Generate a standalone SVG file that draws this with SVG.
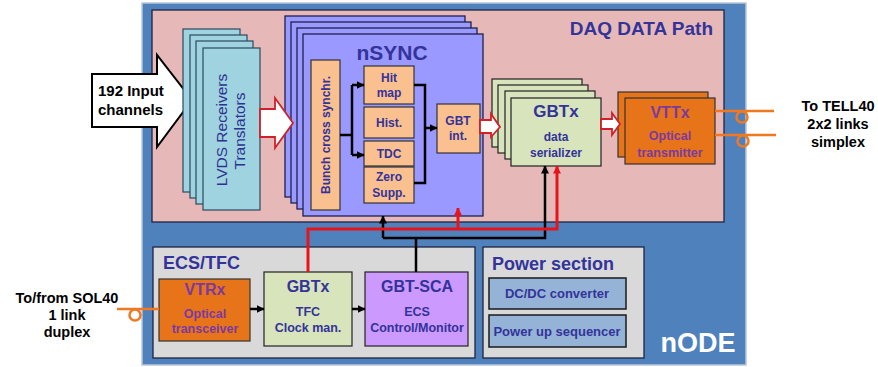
<svg xmlns="http://www.w3.org/2000/svg" width="878" height="367" viewBox="0 0 878 367">
<style>
.ttl{font-family:"Liberation Sans",Arial,sans-serif;font-weight:bold;fill:#333399}
.lbl{font-family:"Liberation Sans",Arial,sans-serif;font-weight:bold;fill:#333399;text-anchor:middle}
.ext{font-family:"Liberation Sans",Arial,sans-serif;font-weight:bold;fill:#000;text-anchor:middle;font-size:14.5px}
.box{stroke:#1f2340;stroke-width:1.3}
.lvds{fill:#9fd3df;stroke:#2a4a60;stroke-width:1.2}
.nsync{fill:#9999ff;stroke:#1f1f50;stroke-width:1.3}
.org{fill:#fac090;stroke:#333;stroke-width:1.2}
.grn{fill:#d7e4bc;stroke:#222;stroke-width:1.2}
.vt{fill:#e8741a;stroke:#333;stroke-width:1.2}
.pw{fill:#95b3d7;stroke:#1a1a1a;stroke-width:1.5}
.vtt{fill:#7a3aa0;font-family:"Liberation Sans",Arial,sans-serif;font-weight:bold;text-anchor:middle}
.vts{fill:#7a3aa0;font-family:"Liberation Sans",Arial,sans-serif;font-weight:bold;text-anchor:middle;font-size:12.5px}
.bl{fill:none;stroke:#000;stroke-width:2.5}
.rd{fill:none;stroke:#e8141b;stroke-width:3}
.fib{fill:none;stroke:#f07820;stroke-width:2.5}
.wa{fill:#fff;stroke:#d0202a;stroke-width:1.8}
</style>
<defs>
<marker id="ab" viewBox="0 0 8 8" refX="7.5" refY="4" markerWidth="8" markerHeight="8" markerUnits="userSpaceOnUse" orient="auto"><path d="M0,0 L8,4 L0,8 z" fill="#000"/></marker>
<marker id="ar" viewBox="0 0 8 8" refX="7.5" refY="4" markerWidth="8" markerHeight="8" markerUnits="userSpaceOnUse" orient="auto"><path d="M0,0 L8,4 L0,8 z" fill="#e8141b"/></marker>
</defs>

<g id="node-frame">
<rect x="142" y="3" width="604" height="362" fill="#4f81bd" stroke="#b8c8dc" stroke-width="1.5"/>
<text x="698" y="352" text-anchor="middle" font-family="Liberation Sans,Arial,sans-serif" font-weight="bold" font-size="27" fill="#fff">nODE</text>
</g>

<g id="daq">
<rect x="152" y="10" width="572" height="212" fill="#e6b9b8" class="box"/>
<text x="713" y="35" text-anchor="end" class="ttl" font-size="19">DAQ DATA Path</text>
</g>

<g id="input">
<polygon points="92,74 157,74 157,55 192,100 157,147 157,127 92,127" fill="#fff" stroke="#000" stroke-width="2"/>
<text x="98" y="96" font-family="Liberation Sans,Arial,sans-serif" font-weight="bold" font-size="15">192 Input</text>
<text x="98" y="115" font-family="Liberation Sans,Arial,sans-serif" font-weight="bold" font-size="15">channels</text>
</g>

<g id="lvds">
<rect x="183" y="29" width="57" height="163" class="lvds"/>
<rect x="190" y="35" width="57" height="163" class="lvds"/>
<rect x="196" y="41" width="57" height="163" class="lvds"/>
<rect x="203" y="48" width="57" height="162" class="lvds"/>
<text transform="translate(227,130) rotate(-90)" text-anchor="middle" font-family="Liberation Sans,Arial,sans-serif" font-size="15.5" fill="#2e3192">LVDS Receivers</text>
<text transform="translate(245,131) rotate(-90)" text-anchor="middle" font-family="Liberation Sans,Arial,sans-serif" font-size="15.5" fill="#2e3192">Translators</text>
</g>

<g id="nsync">
<rect x="285" y="16" width="180" height="181" class="nsync"/>
<rect x="291" y="22" width="180" height="181" class="nsync"/>
<rect x="297" y="28" width="180" height="181" class="nsync"/>
<rect x="303" y="34" width="180" height="182" class="nsync"/>
<text x="392" y="60" class="lbl" font-size="21">nSYNC</text>
</g>

<g id="bunch">
<rect x="311" y="60" width="29" height="150" class="org"/>
<text transform="translate(330,135) rotate(-90)" class="lbl" font-size="12">Bunch cross synchr.</text>
</g>
<g id="hitmap">
<rect x="364" y="66" width="50" height="38" class="org"/>
<text x="389" y="82" class="lbl" font-size="12">Hit</text>
<text x="389" y="97" class="lbl" font-size="12">map</text>
</g>
<g id="hist">
<rect x="364" y="107" width="50" height="31" class="org"/>
<text x="389" y="127" class="lbl" font-size="12">Hist.</text>
</g>
<g id="tdc">
<rect x="364" y="141" width="50" height="25" class="org"/>
<text x="389" y="158" class="lbl" font-size="12">TDC</text>
</g>
<g id="zerosupp">
<rect x="364" y="167" width="50" height="36" class="org"/>
<text x="389" y="181" class="lbl" font-size="12">Zero</text>
<text x="389" y="197" class="lbl" font-size="12">Supp.</text>
</g>
<g id="gbtint">
<rect x="437" y="104" width="43" height="49" class="org"/>
<text x="458" y="125" class="lbl" font-size="12">GBT</text>
<text x="458" y="140" class="lbl" font-size="12">int.</text>
</g>

<g id="gbtx-data">
<rect x="492" y="79" width="90" height="68" class="grn"/>
<rect x="498" y="85" width="90" height="68" class="grn"/>
<rect x="505" y="91" width="90" height="68" class="grn"/>
<rect x="511" y="98" width="90" height="68" class="grn"/>
<text x="556" y="117" class="lbl" font-size="17">GBTx</text>
<text x="556" y="141" class="lbl" font-size="12">data</text>
<text x="556" y="157" class="lbl" font-size="12">serializer</text>
</g>

<g id="vttx">
<rect x="618" y="92" width="90" height="65" class="vt"/>
<rect x="625" y="98" width="90" height="66" class="vt"/>
<text x="670" y="118" class="vtt" font-size="16">VTTx</text>
<text x="670" y="140" class="vts">Optical</text>
<text x="670" y="157" class="vts">transmitter</text>
</g>

<g id="tell40">
<text x="838" y="111" class="ext">To TELL40</text>
<text x="838" y="129" class="ext">2x2 links</text>
<text x="838" y="147" class="ext">simplex</text>
</g>

<g id="ecs">
<rect x="153" y="247" width="322" height="111" fill="#d9d9d9" class="box"/>
<text x="163" y="269" class="ttl" font-size="18">ECS/TFC</text>
</g>
<g id="vtrx">
<rect x="159" y="279" width="91" height="62" class="vt"/>
<text x="205" y="295" class="vtt" font-size="16">VTRx</text>
<text x="205" y="318" class="vts">Optical</text>
<text x="205" y="333" class="vts">transceiver</text>
</g>
<g id="gbtx-tfc">
<rect x="264" y="272" width="88" height="74" class="grn"/>
<text x="308" y="292" class="lbl" font-size="16">GBTx</text>
<text x="308" y="316" class="lbl" font-size="12.5">TFC</text>
<text x="308" y="332" class="lbl" font-size="12.5">Clock man.</text>
</g>
<g id="gbtsca">
<rect x="365" y="272" width="103" height="74" fill="#cc99ff" stroke="#222" stroke-width="1.2"/>
<text x="417" y="292" class="lbl" font-size="16">GBT-SCA</text>
<text x="417" y="316" class="lbl" font-size="12.5">ECS</text>
<text x="417" y="332" class="lbl" font-size="12.5">Control/Monitor</text>
</g>
<g id="sol40">
<text x="67" y="303" class="ext">To/from SOL40</text>
<text x="67" y="320" class="ext">1 link</text>
<text x="67" y="337" class="ext">duplex</text>
</g>

<g id="power">
<rect x="483" y="247" width="161" height="111" fill="#d9d9d9" class="box"/>
<text x="492" y="270" class="ttl" font-size="18">Power section</text>
</g>
<g id="dcdc">
<rect x="489" y="278" width="137" height="31" class="pw"/>
<text x="557" y="298" class="lbl" font-size="13">DC/DC converter</text>
</g>
<g id="powerup">
<rect x="489" y="315" width="137" height="32" class="pw"/>
<text x="557" y="336" class="lbl" font-size="13">Power up sequencer</text>
</g>

<g id="connectors">
<polygon points="260,109 275,109 275,98 293,123 275,148 275,137 260,137" class="wa"/>
<polygon points="480,120 491,120 491,114 500,127 491,137 491,133 480,133" class="wa"/>
<polygon points="601,119 612,119 612,113 620,124 612,135 612,129 601,129" class="wa"/>
<path d="M340,135 H352 M352,85 V155" class="bl"/>
<path d="M352,85 H364" class="bl" marker-end="url(#ab)"/>
<path d="M352,155 H364" class="bl" marker-end="url(#ab)"/>
<path d="M414,85 H425 V183 H414" class="bl"/>
<path d="M425,128 H437" class="bl" marker-end="url(#ab)"/>
<path d="M250,309 H264" class="bl" marker-end="url(#ab)"/>
<path d="M352,309 H365" class="bl" marker-end="url(#ab)"/>
<path d="M416,272 V238" class="bl"/>
<path d="M383,238 V216" class="bl" marker-end="url(#ab)"/>
<path d="M383,238 H545 V166" class="bl" marker-end="url(#ab)"/>
<path d="M308,272 V229 H557 V166" class="rd" marker-end="url(#ar)"/>
<path d="M458,229 V208" class="rd" marker-end="url(#ar)"/>
<path d="M715,111 H774" class="fib"/>
<circle cx="742" cy="117" r="5.5" class="fib"/>
<path d="M715,135 H776" class="fib"/>
<circle cx="743" cy="141" r="5.5" class="fib"/>
<path d="M117,309 H159" class="fib"/>
<circle cx="135" cy="315" r="5.5" class="fib"/>
</g>
</svg>
